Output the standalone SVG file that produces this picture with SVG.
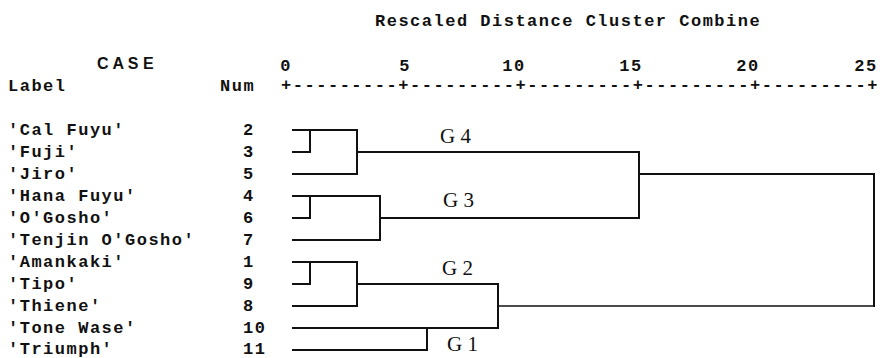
<svg xmlns="http://www.w3.org/2000/svg" width="883" height="358" viewBox="0 0 883 358">
  <style>
    .mono { font-family: "Liberation Mono", "Courier New", monospace; font-size: 17px; letter-spacing: 1.5px; fill: #111; font-weight: bold; }
    .case { font-family: "Liberation Sans", Arial, sans-serif; font-size: 16px; font-weight: bold; fill: #111; }
    .grp { font-family: "Liberation Serif", "Times New Roman", serif; font-size: 21px; fill: #111; }
    .ln { fill: none; stroke: #111; stroke-width: 2; stroke-linecap: square; stroke-linejoin: miter; }
  </style>
  <rect width="883" height="358" fill="#fff"/>

  <!-- Heading and axis -->
  <g id="header">
    <text class="mono" x="375" y="26">Rescaled Distance Cluster Combine</text>
    <text class="case" x="97" y="69">C A S E</text>
    <text class="mono" x="8" y="91">Label</text>
    <text class="mono" x="220" y="91">Num</text>
    <g class="mono" text-anchor="middle">
      <text x="286" y="71">0</text>
      <text x="405" y="71">5</text>
      <text x="514" y="71">10</text>
      <text x="631" y="71">15</text>
      <text x="748" y="71">20</text>
      <text x="866" y="71">25</text>
    </g>
    <text class="mono" x="281" y="90" textLength="598" lengthAdjust="spacing">+---------+---------+---------+---------+---------+</text>
  </g>

  <!-- Case labels -->
  <g id="cases" class="mono">
    <g id="case-2"><text x="8" y="135">'Cal Fuyu'</text><text x="243" y="135">2</text></g>
    <g id="case-3"><text x="8" y="157">'Fuji'</text><text x="243" y="157">3</text></g>
    <g id="case-5"><text x="8" y="179">'Jiro'</text><text x="243" y="179">5</text></g>
    <g id="case-4"><text x="8" y="201">'Hana Fuyu'</text><text x="243" y="201">4</text></g>
    <g id="case-6"><text x="8" y="223">'O'Gosho'</text><text x="243" y="223">6</text></g>
    <g id="case-7"><text x="8" y="245">'Tenjin O'Gosho'</text><text x="243" y="245">7</text></g>
    <g id="case-1"><text x="8" y="267">'Amankaki'</text><text x="243" y="267">1</text></g>
    <g id="case-9"><text x="8" y="289">'Tipo'</text><text x="243" y="289">9</text></g>
    <g id="case-8"><text x="8" y="311">'Thiene'</text><text x="243" y="311">8</text></g>
    <g id="case-10"><text x="8" y="333">'Tone Wase'</text><text x="243" y="333">10</text></g>
    <g id="case-11"><text x="8" y="354">'Triumph'</text><text x="243" y="354">11</text></g>
  </g>

  <!-- Group labels -->
  <g id="group-labels" class="grp">
    <text id="g4" x="440" y="143">G 4</text>
    <text id="g3" x="443" y="207">G 3</text>
    <text id="g2" x="442" y="275">G 2</text>
    <text id="g1" x="447" y="351">G 1</text>
  </g>

  <!-- Dendrogram links -->
  <g id="connectors" class="ln">
    <!-- G4 -->
    <path d="M293 130 H357 V174 H293"/>
    <path d="M293 152 H310 V130"/>
    <path d="M357 152 H639"/>
    <!-- G3 -->
    <path d="M293 196 H380 V240 H293"/>
    <path d="M293 218 H310 V196"/>
    <path d="M380 218 H639"/>
    <!-- G4 + G3 -->
    <path d="M639 152 V218"/>
    <path d="M639 174 H874 V306"/>
    <!-- G2 -->
    <path d="M293 262 H357 V306 H293"/>
    <path d="M293 284 H310 V262"/>
    <path d="M357 284 H498 V328"/>
    <!-- G1 -->
    <path d="M293 328 H498"/>
    <path d="M293 350 H427 V328"/>
    <!-- G2 + G1 to root -->
    <path d="M498 306 H874" stroke-width="1.6"/>
  </g>
</svg>
